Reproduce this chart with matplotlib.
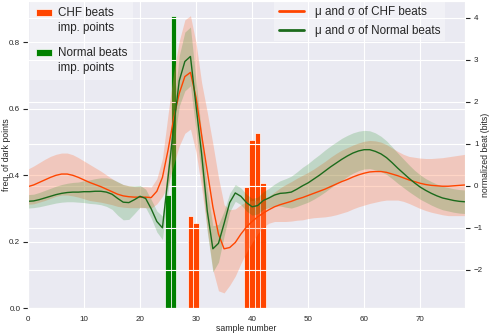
import numpy as np
import matplotlib
matplotlib.use('Agg')
import matplotlib.pyplot as plt
from matplotlib.legend_handler import HandlerPatch, update_from_first_child
import seaborn as sns

# important points: sample positions and how often they were dark
chf_pos = [29, 30, 39, 40, 41, 42]
chf_freq = [0.277, 0.257, 0.364, 0.507, 0.528, 0.377]
norm_pos = [25, 26]
norm_freq = [0.34, 0.88]

# mean and std of the normalized beats, one value per sample
samples = list(range(79))
chf_mu = [-0.02, 0.02, 0.08, 0.14, 0.20, 0.25, 0.28, 0.28, 0.25, 0.20,
          0.14, 0.08, 0.03, -0.02, -0.08, -0.14, -0.20, -0.24, -0.26, -0.27,
          -0.27, -0.27, -0.28, -0.13, 0.20, 0.85, 1.60, 2.20, 2.60, 2.70,
          2.10, 1.20, 0.35, -0.50, -1.15, -1.50, -1.47, -1.35, -1.15, -0.98,
          -0.85, -0.74, -0.65, -0.57, -0.50, -0.45, -0.41, -0.37, -0.32, -0.28,
          -0.23, -0.18, -0.13, -0.08, -0.02, 0.04, 0.10, 0.15, 0.21, 0.26,
          0.30, 0.33, 0.34, 0.34, 0.32, 0.28, 0.24, 0.19, 0.14, 0.10,
          0.06, 0.03, 0.01, 0.00, -0.01, -0.01, 0.00, 0.01, 0.02]
chf_sd = [0.42, 0.45, 0.47, 0.49, 0.50, 0.50, 0.50, 0.50, 0.49, 0.47,
          0.45, 0.43, 0.40, 0.37, 0.34, 0.31, 0.29, 0.27, 0.26, 0.25,
          0.25, 0.25, 0.25, 0.30, 0.45, 0.85, 1.10, 1.25, 1.35, 1.35,
          1.30, 1.25, 1.40, 1.50, 1.35, 1.05, 0.90, 0.80, 0.70, 0.60,
          0.50, 0.40, 0.33, 0.32, 0.35, 0.40, 0.44, 0.47, 0.50, 0.53,
          0.55, 0.58, 0.62, 0.66, 0.70, 0.73, 0.75, 0.76, 0.76, 0.76,
          0.76, 0.75, 0.73, 0.70, 0.66, 0.62, 0.58, 0.56, 0.56, 0.58,
          0.60, 0.62, 0.64, 0.66, 0.68, 0.70, 0.71, 0.72, 0.73]
norm_mu = [-0.37, -0.36, -0.33, -0.29, -0.25, -0.21, -0.18, -0.16, -0.15, -0.15,
           -0.14, -0.14, -0.13, -0.13, -0.15, -0.20, -0.30, -0.39, -0.40, -0.33,
           -0.25, -0.30, -0.55, -0.85, -1.00, 0.20, 1.40, 2.50, 2.96, 3.08,
           1.90, 0.75, -0.60, -1.50, -1.37, -0.90, -0.40, -0.17, -0.25, -0.40,
           -0.50, -0.47, -0.35, -0.29, -0.22, -0.18, -0.17, -0.15, -0.08, 0.00,
           0.07, 0.16, 0.25, 0.35, 0.45, 0.54, 0.63, 0.71, 0.78, 0.83,
           0.86, 0.86, 0.82, 0.76, 0.67, 0.55, 0.42, 0.30, 0.18, 0.07,
           -0.03, -0.11, -0.18, -0.24, -0.29, -0.32, -0.35, -0.37, -0.38]
norm_sd = [0.16, 0.16, 0.17, 0.18, 0.19, 0.20, 0.21, 0.22, 0.23, 0.24,
           0.26, 0.28, 0.30, 0.32, 0.34, 0.36, 0.40, 0.42, 0.40, 0.33,
           0.26, 0.22, 0.22, 0.25, 0.28, 0.35, 0.45, 0.60, 0.70, 0.70,
           0.60, 0.50, 0.50, 0.55, 0.45, 0.30, 0.22, 0.20, 0.20, 0.20,
           0.20, 0.20, 0.21, 0.23, 0.26, 0.30, 0.34, 0.38, 0.41, 0.44,
           0.46, 0.48, 0.49, 0.50, 0.50, 0.50, 0.50, 0.49, 0.48, 0.47,
           0.46, 0.45, 0.44, 0.42, 0.40, 0.38, 0.36, 0.34, 0.32, 0.30,
           0.29, 0.28, 0.28, 0.28, 0.28, 0.28, 0.28, 0.28, 0.28]

LEG_LINESPACING = 1.35


class FirstLinePatch(HandlerPatch):
    """Bar handle lined up with the first line of a two-line label."""

    def __init__(self):
        super().__init__(update_func=update_from_first_child)

    def create_artists(self, legend, orig_handle, xdescent, ydescent,
                       width, height, fontsize, trans):
        artists = super().create_artists(legend, orig_handle, xdescent,
                                         ydescent, width, height, fontsize,
                                         trans)
        renderer = legend.figure.canvas.get_renderer()
        _, h, d = renderer.get_text_width_height_descent('lp', legend.prop,
                                                         ismath=False)
        shift = (h - d) * LEG_LINESPACING * 72.0 / legend.figure.dpi - 2.6
        for a in artists:
            a.set_y(a.get_y() + shift)
        return artists


sns.set_style('darkgrid')
plt.rcParams['font.family'] = ['Liberation Sans', 'DejaVu Sans']

chf_col = 'orangered'
norm_bar_col = 'green'
norm_line_col = '#1c6b1c'

fig = plt.figure(figsize=(4.91, 3.33), dpi=100)
ax1 = fig.add_axes([0.057, 0.075, 0.890, 0.922])

b1 = ax1.bar(chf_pos, chf_freq, width=1.0, color=chf_col, edgecolor='white',
             linewidth=0.5, label='CHF beats\nimp. points')
b2 = ax1.bar(norm_pos, norm_freq, width=1.0, color=norm_bar_col, edgecolor='white',
             linewidth=0.5, label='Normal beats\nimp. points')
ax1.set_xlim(0, 78)
ax1.set_ylim(0, 0.925)
ax1.set_yticks([0.0, 0.2, 0.4, 0.6, 0.8])
ax1.set_xticks(range(0, 80, 10))
ax1.set_xlabel('sample number', fontsize=6.3, labelpad=1)
ax1.set_ylabel('freq. of dark points', fontsize=6.3)
ax1.yaxis.set_label_coords(-0.040, 0.5)
ax1.tick_params(labelsize=5.8, pad=2)

ax2 = ax1.twinx()
x = np.array(samples)
mu_c, sd_c = np.array(chf_mu), np.array(chf_sd)
mu_n, sd_n = np.array(norm_mu), np.array(norm_sd)
ax2.fill_between(x, mu_c - sd_c, mu_c + sd_c, color='coral', alpha=0.32, lw=0)
ax2.fill_between(x, mu_n - sd_n, mu_n + sd_n, color='green', alpha=0.18, lw=0)
l1, = ax2.plot(x, mu_c, color=chf_col, lw=1.0, label='μ and σ of CHF beats')
l2, = ax2.plot(x, mu_n, color=norm_line_col, lw=1.0, label='μ and σ of Normal beats')
ax2.set_ylim(-2.91, 4.40)
ax2.set_yticks([-2, -1, 0, 1, 2, 3, 4])
ax2.xaxis.grid(False)
ax2.set_ylabel('normalized beat (bits)', fontsize=6.3)
ax2.yaxis.set_label_coords(1.037, 0.5)
ax2.tick_params(labelsize=5.8, pad=3)

# both legends live on the top axes so they sit above its grid
leg_box = dict(frameon=True, facecolor='white', framealpha=0.35,
               edgecolor='none', fancybox=False, fontsize=8.4, borderaxespad=0)
leg1 = ax2.legend(handles=[b1, b2], loc='upper left',
                  bbox_to_anchor=(0.005, 1.0), handlelength=1.35,
                  handleheight=0.5, handletextpad=0.5, labelspacing=1.1,
                  borderpad=0.5,
                  handler_map={b1: FirstLinePatch(), b2: FirstLinePatch()},
                  **leg_box)
for t in leg1.get_texts():
    t.set_linespacing(LEG_LINESPACING)
ax2.add_artist(leg1)
leg2 = ax2.legend(handles=[l1, l2], loc='upper left',
                  bbox_to_anchor=(0.563, 1.0), handlelength=2.2,
                  handletextpad=0.9, labelspacing=0.6, borderpad=0.4,
                  **leg_box)
for h in leg2.get_lines():
    h.set_linewidth(2.0)

fig.savefig('out.png', dpi=100)
